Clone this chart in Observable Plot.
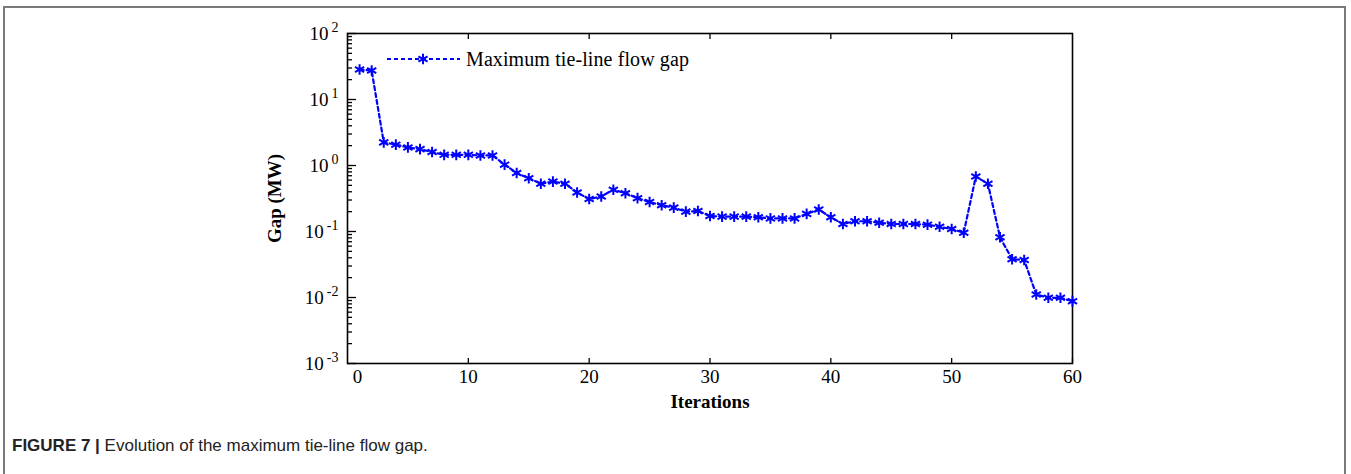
<!DOCTYPE html>
<html>
<head>
<meta charset="utf-8">
<script src="https://cdn.jsdelivr.net/npm/d3@7"></script>
<script src="https://cdn.jsdelivr.net/npm/@observablehq/plot@0.6"></script>
<style>
  html, body { margin: 0; padding: 0; background: #fff; width: 1351px; height: 474px; overflow: hidden; }
  #wrap { position: relative; width: 1351px; height: 474px; }
  #border { position: absolute; left: 3px; top: 6px; width: 1343px; height: 480px; border: 2px solid #7a7a7a; border-bottom: none; box-sizing: border-box; }
  #chart { position: absolute; left: 0; top: 0; }
  #legend { position: absolute; left: 385px; top: 46px; display: flex; align-items: center; font-family: 'Liberation Serif', 'Times New Roman', serif; font-size: 20px; color: #000; }
  #legend span { margin-left: 5px; letter-spacing: 0.1px; }
  #caption { position: absolute; left: 12px; top: 436px; font-family: 'Liberation Sans', Arial, sans-serif; font-size: 17px; color: #222; }
  g[aria-label="y-axis label"], g[aria-label="x-axis label"] { font-weight: bold; }
</style>
</head>
<body>
<div id="wrap">
  <div id="border"></div>
  <div id="chart"></div>
  <div id="legend"></div>
  <div id="caption"><b>FIGURE 7 |</b> Evolution of the maximum tie-line flow gap.</div>
</div>
<script>
// ---- data ----
const iterations = [1,2,3,4,5,6,7,8,9,10,11,12,13,14,15,16,17,18,19,20,
  21,22,23,24,25,26,27,28,29,30,31,32,33,34,35,36,37,38,39,40,
  41,42,43,44,45,46,47,48,49,50,51,52,53,54,55,56,57,58,59,60];
const gapMW = [28.5,27.5,2.24,2.07,1.88,1.77,1.6,1.45,1.45,1.45,1.42,1.42,1.03,0.77,0.64,0.53,0.57,0.53,0.39,0.31,
  0.34,0.43,0.38,0.32,0.28,0.25,0.23,0.20,0.204,0.172,0.168,0.168,0.168,0.164,0.158,0.158,0.158,0.185,0.215,0.164,
  0.130,0.143,0.143,0.136,0.130,0.130,0.130,0.127,0.118,0.109,0.096,0.68,0.53,0.082,0.038,0.037,0.0111,0.0099,0.0099,0.0088];
const xTicks = [10, 20, 30, 40, 50, 60];
const xTopTicks = [10, 20, 30, 40, 50];
const xZeroTick = [0];
const yMajorTicks = [1e-3, 1e-2, 1e-1, 1e0, 1e1, 1e2];
const yExponents = ["-3", "-2", "-1", "0", "1", "2"];
const yMinorTicks = [];
for (let e = -3; e < 2; e++) for (let m = 2; m <= 9; m++) yMinorTicks.push(+(m * Math.pow(10, e)).toPrecision(3));
const seriesName = "Maximum tie-line flow gap";

const data = iterations.map((x, i) => ({x, y: gapMW[i]}));
const blue = "#0000ff";

const chart = Plot.plot({
  width: 1351,
  height: 420,
  marginLeft: 347,
  marginRight: 279,
  marginTop: 33,
  marginBottom: 57,
  style: {fontFamily: "'Liberation Serif', 'Times New Roman', serif", fontSize: "19px", color: "#000", background: "transparent", overflow: "visible"},
  x: {type: "linear", domain: [0, 60]},
  y: {type: "log", domain: [1e-3, 1e2]},
  marks: [
    Plot.axisY({ticks: yMinorTicks, tickSize: -5, tickFormat: () => "", label: null, strokeWidth: 1.3}),
    Plot.axisY({ticks: yMajorTicks, tickSize: -9, tickPadding: 18, strokeWidth: 1.3,
      tickFormat: (d) => "10^" + yExponents[yMajorTicks.indexOf(d)],
      label: "Gap (MW)", labelAnchor: "center", labelOffset: 80, labelArrow: "none"}),
    Plot.axisX({anchor: "top", ticks: xTopTicks, tickSize: -5, tickFormat: () => "", label: null, strokeWidth: 1.3}),
    Plot.axisX({anchor: "bottom", ticks: xTicks, tickSize: -5, tickPadding: 11, strokeWidth: 1.3,
      label: "Iterations", labelAnchor: "center", labelOffset: 44, labelArrow: "none"}),
    Plot.axisX({anchor: "bottom", ticks: xZeroTick, tickSize: 0, tickPadding: 6, dx: 10, label: null}),
    Plot.frame({stroke: "#000", strokeWidth: 1.6}),
    Plot.line(data, {x: "x", y: "y", stroke: blue, strokeWidth: 2.2, strokeDasharray: "4,3"}),
    Plot.dot(data, {x: "x", y: "y", symbol: "asterisk", stroke: blue, strokeWidth: 2, r: 5})
  ]
});
document.getElementById("chart").appendChild(chart);

// superscript exponents on the log-axis tick labels
chart.querySelectorAll('g[aria-label="y-axis tick label"] text').forEach((t) => {
  const s = t.textContent;
  if (!s.includes("^")) return;
  const [base, exp] = s.split("^");
  t.textContent = base;
  const ts = document.createElementNS("http://www.w3.org/2000/svg", "tspan");
  ts.setAttribute("dx", "3");
  ts.setAttribute("dy", "-0.55em");
  ts.setAttribute("font-size", "14");
  ts.textContent = exp;
  t.appendChild(ts);
});

// legend
const leg = document.getElementById("legend");
const ns = "http://www.w3.org/2000/svg";
const ls = document.createElementNS(ns, "svg");
ls.setAttribute("width", 76); ls.setAttribute("height", 26);
const ln = document.createElementNS(ns, "line");
ln.setAttribute("x1", 2); ln.setAttribute("x2", 75); ln.setAttribute("y1", 13); ln.setAttribute("y2", 13);
ln.setAttribute("stroke", blue); ln.setAttribute("stroke-width", 2.2); ln.setAttribute("stroke-dasharray", "4,3");
ls.appendChild(ln);
const sym = document.createElementNS(ns, "path");
sym.setAttribute("d", d3.symbol(d3.symbolAsterisk, Math.PI * 5 * 5)());
sym.setAttribute("transform", "translate(38,13)");
sym.setAttribute("stroke", blue); sym.setAttribute("stroke-width", 2); sym.setAttribute("fill", "none");
ls.appendChild(sym);
leg.appendChild(ls);
const lt = document.createElement("span");
lt.textContent = seriesName;
leg.appendChild(lt);
</script>
</body>
</html>
